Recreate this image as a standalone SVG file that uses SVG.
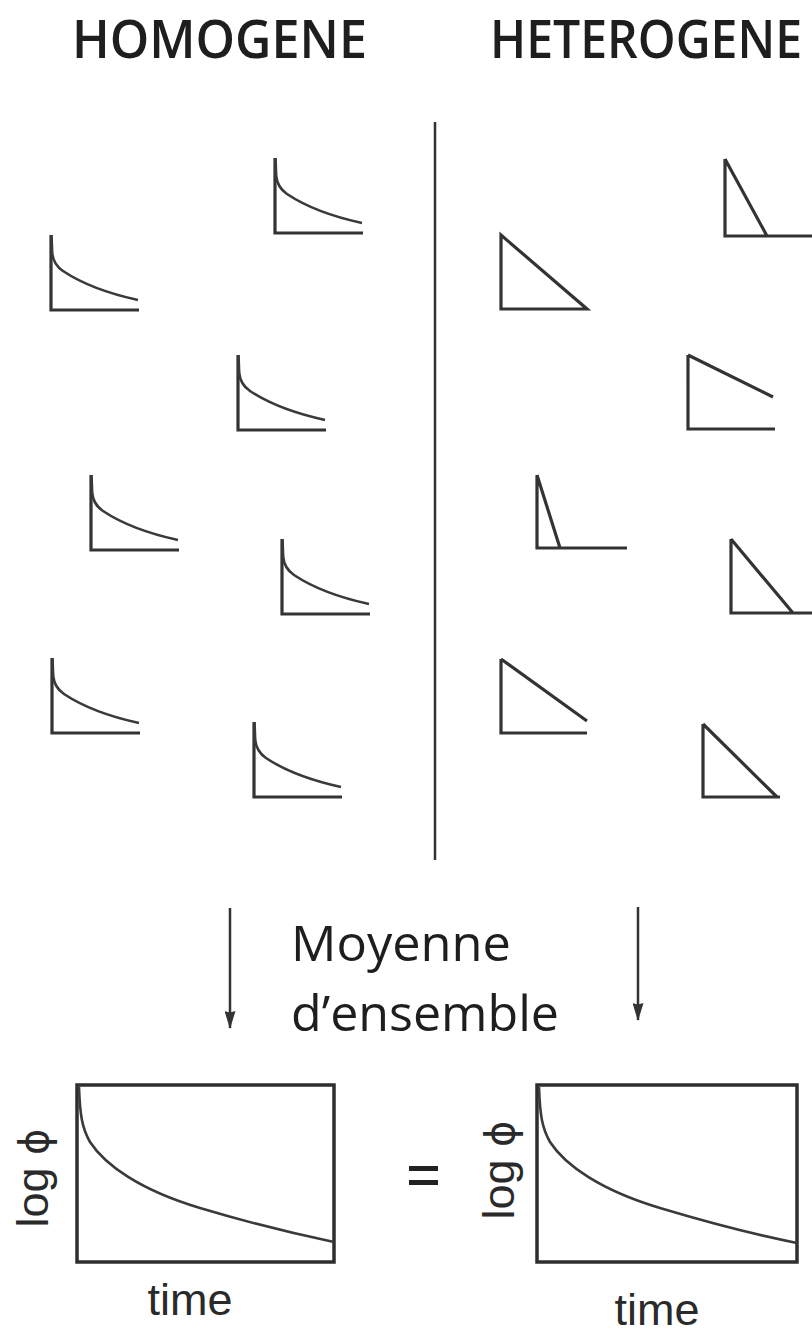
<svg xmlns="http://www.w3.org/2000/svg" width="812" height="1333" viewBox="0 0 812 1333">
  <style>
    .title { font-family: "Open Sans", "Noto Sans", sans-serif; font-size: 52px; font-weight: 600; fill: #1e1e1e; }
    .label { font-family: "Open Sans", "Noto Sans", sans-serif; font-size: 49px; font-weight: 450; fill: #1e1e1e; }
    .axis { font-family: "Liberation Sans", Arial, sans-serif; font-size: 45px; fill: #2a2a2a; }
    .ln { fill: none; stroke: #333; stroke-width: 3.2; stroke-linejoin: miter; stroke-linecap: butt; }
    .curve { fill: none; stroke: #3a3a3a; stroke-width: 2.6; }
    .box { fill: none; stroke: #2e2e2e; stroke-width: 3.5; }
    .arrow { stroke: #333; stroke-width: 2.5; fill: none; }
  </style>
  <defs>
    <!-- small decay sketch: axes plus a 1/t style curve -->
    <g id="decay">
      <path class="ln" d="M0,0 V75 H88"/>
      <path class="curve" d="M0.5,0 L1.2,18 C2,26 6,32 12,36 C30,48 55,58 87,65"/>
    </g>
    <marker id="head" markerWidth="18" markerHeight="11" refX="17" refY="5.5" orient="auto" markerUnits="userSpaceOnUse" viewBox="0 0 18 11">
      <path d="M0,0 L18,5.5 L0,11 L1.5,5.5 Z" fill="#333"/>
    </marker>
  </defs>

  <rect width="812" height="1333" fill="#ffffff"/>

  <!-- headings -->
  <text class="title" x="72" y="58" textLength="295" lengthAdjust="spacingAndGlyphs">HOMOGENE</text>
  <text class="title" x="490" y="58" textLength="312" lengthAdjust="spacingAndGlyphs">HETEROGENE</text>

  <!-- dividing line between the two populations -->
  <line x1="435" y1="122" x2="435" y2="860" stroke="#333" stroke-width="2.5"/>

  <!-- homogeneous population: identical decays -->
  <g id="homo-1"><use href="#decay" x="275" y="158"/></g>
  <g id="homo-2"><use href="#decay" x="51" y="235"/></g>
  <g id="homo-3"><use href="#decay" x="238" y="355"/></g>
  <g id="homo-4"><use href="#decay" x="91" y="475"/></g>
  <g id="homo-5"><use href="#decay" x="282" y="539"/></g>
  <g id="homo-6"><use href="#decay" x="52" y="658"/></g>
  <g id="homo-7"><use href="#decay" x="254" y="722"/></g>

  <!-- heterogeneous population: different single-rate decays -->
  <g id="hetero-1"><path class="ln" d="M725,159 V236 H815 M725,159 L767,236"/></g>
  <g id="hetero-2"><path class="ln" d="M501,235 V309 H587 Z"/></g>
  <g id="hetero-3"><path class="ln" d="M688,355 V429 H775 M688,355 L773,397"/></g>
  <g id="hetero-4"><path class="ln" d="M537,475 V548 H627 M537,475 L560,548"/></g>
  <g id="hetero-5"><path class="ln" d="M731,539 V613 H815 M731,539 L793,613"/></g>
  <g id="hetero-6"><path class="ln" d="M501,659 V733 H587 M501,659 L587,721"/></g>
  <g id="hetero-7"><path class="ln" d="M703,724 V797 H780 M703,724 L777,797"/></g>

  <!-- averaging arrows -->
  <g id="connectors">
    <line class="arrow" x1="230" y1="908" x2="230" y2="1028" marker-end="url(#head)"/>
    <line class="arrow" x1="638" y1="907" x2="638" y2="1020" marker-end="url(#head)"/>
  </g>

  <g id="caption">
    <text class="label" x="291" y="961" textLength="220" lengthAdjust="spacingAndGlyphs">Moyenne</text>
    <text class="label" x="291" y="1031" textLength="268" lengthAdjust="spacingAndGlyphs">d’ensemble</text>
  </g>

  <!-- ensemble-averaged decay, homogeneous case -->
  <g id="plot-left">
    <rect class="box" x="77" y="1085" width="257" height="177"/>
    <path class="curve" d="M79,1087 C80,1115 82,1128 90,1142 C105,1165 140,1190 200,1208 S300,1235 334,1242"/>
    <text class="axis" transform="translate(48,1178) rotate(-90)" text-anchor="middle">log <tspan font-family="DejaVu Sans, sans-serif" font-size="40">ϕ</tspan></text>
    <text class="axis" x="190" y="1315" text-anchor="middle">time</text>
  </g>

  <!-- equals sign -->
  <g id="equals">
    <rect x="409" y="1166" width="29" height="5" fill="#222"/>
    <rect x="409" y="1180" width="29" height="5" fill="#222"/>
  </g>

  <!-- ensemble-averaged decay, heterogeneous case -->
  <g id="plot-right">
    <rect class="box" x="537" y="1085" width="260" height="177"/>
    <path class="curve" d="M539,1087 C540,1115 542,1128 550,1142 C565,1165 600,1190 660,1208 S762,1236 797,1243"/>
    <text class="axis" transform="translate(514,1170) rotate(-90)" text-anchor="middle">log <tspan font-family="DejaVu Sans, sans-serif" font-size="40">ϕ</tspan></text>
    <text class="axis" x="657" y="1325" text-anchor="middle">time</text>
  </g>
</svg>
